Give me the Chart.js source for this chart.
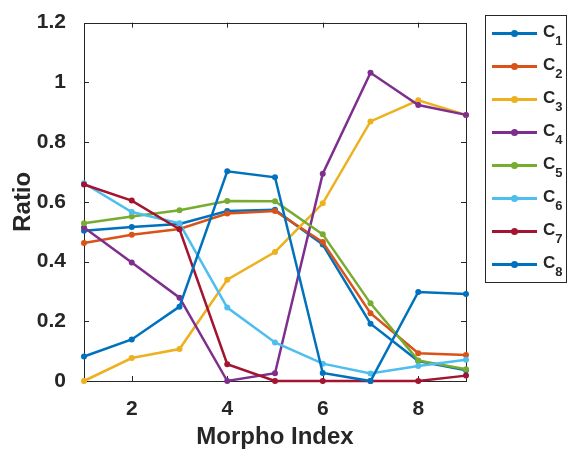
<!DOCTYPE html>
<html>
<head>
<meta charset="utf-8">
<script src="https://cdn.jsdelivr.net/npm/chart.js@4"></script>
<style>
  body { margin: 0; background: #fff; }
  #wrap { position: relative; width: 572px; height: 455px; }
  #legend {
    position: absolute; left: 485px; top: 15px; width: 82px; height: 268px;
    border: 1px solid #262626; box-sizing: border-box;
    font-family: "Liberation Sans", Arial, sans-serif; font-weight: bold; color: #262626;
    padding-top: 1px;
  }
  .row { position: relative; height: 33px; display: flex; align-items: center; }
  .swatch { position: relative; width: 45px; height: 3px; margin-left: 6px; }
  .swatch i { position: absolute; left: 19px; top: -2px; width: 7px; height: 7px; border-radius: 50%; }
  .lbl { margin-left: 6px; font-size: 17px; margin-top: -3px; }
  .lbl sub { font-size: 13px; vertical-align: -8px; line-height: 0; }
</style>
</head>
<body>
<div id="wrap">
  <canvas id="chart-canvas" width="572" height="455"></canvas>
  <div id="legend"></div>
</div>
<script>
const xValues = [1, 2, 3, 4, 5, 6, 7, 8, 9];
const xTicks = [2, 4, 6, 8];
const yTicks = [0, 0.2, 0.4, 0.6, 0.8, 1, 1.2];

const seriesLabels = ['C1', 'C2', 'C3', 'C4', 'C5', 'C6', 'C7', 'C8'];
const seriesColors = ['#0072BD', '#D95319', '#EDB120', '#7E2F8E', '#77AC30', '#4DBEEE', '#A2142F', '#0072BD'];

const c1 = [0.503, 0.516, 0.526, 0.569, 0.573, 0.457, 0.192, 0.067, 0.036];
const c2 = [0.462, 0.490, 0.509, 0.561, 0.569, 0.465, 0.227, 0.093, 0.087];
const c3 = [0.0, 0.077, 0.107, 0.339, 0.432, 0.595, 0.869, 0.940, 0.891];
const c4 = [0.514, 0.397, 0.279, 0.0, 0.026, 0.694, 1.032, 0.924, 0.891];
const c5 = [0.528, 0.551, 0.572, 0.603, 0.602, 0.491, 0.260, 0.069, 0.039];
const c6 = [0.662, 0.566, 0.528, 0.246, 0.129, 0.058, 0.025, 0.050, 0.071];
const c7 = [0.658, 0.604, 0.508, 0.056, 0.0, 0.0, 0.0, 0.0, 0.018];
const c8 = [0.082, 0.139, 0.249, 0.702, 0.682, 0.027, 0.0, 0.298, 0.291];
const seriesValues = [c1, c2, c3, c4, c5, c6, c7, c8];

const axisColor = '#262626';
const fontFamily = '"Liberation Sans", Arial, sans-serif';

// MATLAB style box with inward ticks
const boxPlugin = {
  id: 'matlabBox',
  beforeDatasetsDraw(chart) {
    const { ctx, chartArea: a, scales } = chart;
    const len = 5;
    ctx.save();
    ctx.strokeStyle = axisColor;
    ctx.lineWidth = 1;
    ctx.strokeRect(Math.round(a.left) + 0.5, Math.round(a.top) + 0.5,
      Math.round(a.right - a.left), Math.round(a.bottom - a.top));
    ctx.beginPath();
    scales.x.ticks.forEach(t => {
      const px = Math.round(scales.x.getPixelForValue(t.value)) + 0.5;
      ctx.moveTo(px, a.bottom); ctx.lineTo(px, a.bottom - len);
      ctx.moveTo(px, a.top); ctx.lineTo(px, a.top + len);
    });
    scales.y.ticks.forEach(t => {
      const py = Math.round(scales.y.getPixelForValue(t.value)) + 0.5;
      ctx.moveTo(a.left, py); ctx.lineTo(a.left + len, py);
      ctx.moveTo(a.right, py); ctx.lineTo(a.right - len, py);
    });
    ctx.stroke();
    ctx.restore();
  }
};

const legendPlugin = {
  id: 'htmlLegend',
  afterUpdate(chart) {
    const box = document.getElementById('legend');
    box.innerHTML = '';
    chart.data.datasets.forEach(ds => {
      const row = document.createElement('div');
      row.className = 'row';
      const sw = document.createElement('span');
      sw.className = 'swatch';
      sw.style.background = ds.borderColor;
      const dot = document.createElement('i');
      dot.style.background = ds.borderColor;
      sw.appendChild(dot);
      const lbl = document.createElement('span');
      lbl.className = 'lbl';
      lbl.textContent = ds.label.charAt(0);
      const sub = document.createElement('sub');
      sub.textContent = ds.label.slice(1);
      lbl.appendChild(sub);
      row.appendChild(sw);
      row.appendChild(lbl);
      box.appendChild(row);
    });
  }
};

const ctx = document.getElementById('chart-canvas');
new Chart(ctx, {
  type: 'line',
  data: {
    datasets: seriesValues.map((vals, i) => ({
      label: seriesLabels[i],
      data: vals.map((v, j) => ({ x: xValues[j], y: v })),
      borderColor: seriesColors[i],
      backgroundColor: seriesColors[i],
      pointBackgroundColor: seriesColors[i],
      borderWidth: 2.5,
      pointRadius: 3,
      pointBorderWidth: 0,
      tension: 0,
      clip: false,
      order: seriesValues.length - i,
    })),
  },
  options: {
    responsive: false,
    animation: false,
    layout: { padding: { left: 0, top: 15, right: 106, bottom: 0 } },
    plugins: { legend: { display: false }, tooltip: { enabled: false } },
    scales: {
      x: {
        type: 'linear',
        min: 1,
        max: 9,
        afterBuildTicks: s => { s.ticks = xTicks.map(v => ({ value: v })); },
        afterFit: s => { s.height = 74; },
        grid: { display: false },
        border: { display: false },
        ticks: { color: axisColor, padding: 8, font: { family: fontFamily, size: 21, weight: 'bold' } },
        title: {
          display: true, text: 'Morpho Index', color: axisColor,
          padding: { top: 4, bottom: 3 }, font: { family: fontFamily, size: 24, weight: 'bold' },
        },
      },
      y: {
        min: 0,
        max: 1.2,
        afterBuildTicks: s => { s.ticks = yTicks.map(v => ({ value: v })); },
        afterFit: s => { s.width = 84; },
        grid: { display: false },
        border: { display: false },
        ticks: {
          color: axisColor, padding: 10,
          font: { family: fontFamily, size: 21, weight: 'bold' },
          callback: v => String(+v.toFixed(1)),
        },
        title: {
          display: true, text: 'Ratio', color: axisColor,
          padding: { bottom: 0, top: 9 }, font: { family: fontFamily, size: 24, weight: 'bold' },
        },
      },
    },
  },
  plugins: [boxPlugin, legendPlugin],
});
</script>
</body>
</html>
